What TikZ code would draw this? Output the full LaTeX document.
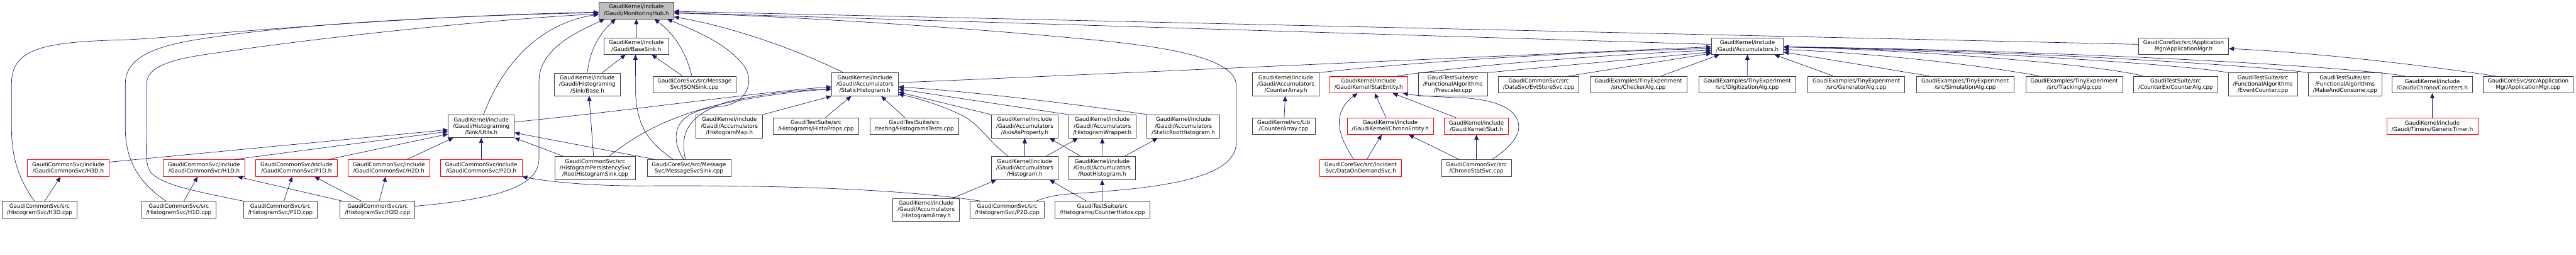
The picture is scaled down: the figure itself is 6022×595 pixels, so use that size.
\documentclass[tikz,border=0pt]{standalone}
\usepackage{fontspec}
\setmainfont{DejaVu Sans}
\usepackage{tikz}
\usetikzlibrary{arrows.meta}
\definecolor{edgeblue}{RGB}{25,25,112}
\definecolor{rootgrey}{RGB}{191,191,191}

\begin{document}
\begin{tikzpicture}[x=0.5pt, y=-0.5pt,
    hfile/.style={draw=black!75, line width=0.5pt, fill=white, align=center,
      inner xsep=5.5pt, inner ysep=2.9pt, minimum height=19.5pt,
      font=\fontsize{6.4}{7.5}\selectfont},
    hred/.style={hfile, draw=red},
    hroot/.style={hfile, fill=rootgrey},
    inc/.style={draw=edgeblue, line width=0.5pt, -{Triangle[length=6pt,width=5pt]}}]
    \useasboundingbox (0,0) rectangle (6022,595);

    % top rows
    \node[hroot] (hub) at (1487.5,24.5) {GaudiKernel/include\\/Gaudi/MonitoringHub.h};
    \node[hfile] (basesink) at (1487.5,107.5) {GaudiKernel/include\\/Gaudi/BaseSink.h};
    \node[hfile] (accum) at (4085,107.5) {GaudiKernel/include\\/Gaudi/Accumulators.h};
    \node[hfile] (appmgrh) at (5104.5,107.5) {GaudiCoreSvc/src/Application\\Mgr/ApplicationMgr.h};

    \node[hfile] (sinkbase) at (1373,197) {GaudiKernel/include\\/Gaudi/Histograming\\/Sink/Base.h};
    \node[hfile] (jsonsink) at (1623.5,197.5) {GaudiCoreSvc/src/Message\\Svc/JSONSink.cpp};
    \node[hfile] (statichisto) at (2022,197) {GaudiKernel/include\\/Gaudi/Accumulators\\/StaticHistogram.h};
    \node[hfile] (counterarray) at (3006,197) {GaudiKernel/include\\/Gaudi/Accumulators\\/CounterArray.h};
    \node[hred] (statentity) at (3199.5,197.5) {GaudiKernel/include\\/GaudiKernel/StatEntity.h};
    \node[hfile] (prescaler) at (3396.5,197) {GaudiTestSuite/src\\/FunctionalAlgorithms\\/Prescaler.cpp};
    \node[hfile] (evtstore) at (3597,197.5) {GaudiCommonSvc/src\\/DataSvc/EvtStoreSvc.cpp};
    \node[hfile] (checker) at (3830,197.5) {GaudiExamples/TinyExperiment\\/src/CheckerAlg.cpp};
    \node[hfile] (digitization) at (4084.5,197.5) {GaudiExamples/TinyExperiment\\/src/DigitizationAlg.cpp};
    \node[hfile] (generator) at (4339.5,197.5) {GaudiExamples/TinyExperiment\\/src/GeneratorAlg.cpp};
    \node[hfile] (simulation) at (4594,197.5) {GaudiExamples/TinyExperiment\\/src/SimulationAlg.cpp};
    \node[hfile] (tracking) at (4849,197.5) {GaudiExamples/TinyExperiment\\/src/TrackingAlg.cpp};
    \node[hfile] (counteralg) at (5086,197.5) {GaudiTestSuite/src\\/CounterEx/CounterAlg.cpp};
    \node[hfile] (eventcounter) at (5290,197) {GaudiTestSuite/src\\/FunctionalAlgorithms\\/EventCounter.cpp};
    \node[hfile] (makeconsume) at (5482,197) {GaudiTestSuite/src\\/FunctionalAlgorithms\\/MakeAndConsume.cpp};
    \node[hfile] (counters) at (5686,197.5) {GaudiKernel/include\\/Gaudi/Chrono/Counters.h};
    \node[hfile] (appmgrcpp) at (5910,197.5) {GaudiCoreSvc/src/Application\\Mgr/ApplicationMgr.cpp};

    % middle row
    \node[hfile] (sinkutils) at (1125,295) {GaudiKernel/include\\/Gaudi/Histograming\\/Sink/Utils.h};
    \node[hfile] (histomap) at (1705,295) {GaudiKernel/include\\/Gaudi/Accumulators\\/HistogramMap.h};
    \node[hfile] (histoprops) at (1907.5,294.5) {GaudiTestSuite/src\\/Histograms/HistoProps.cpp};
    \node[hfile] (histotests) at (2137,294.5) {GaudiTestSuite/src\\/testing/HistogramsTests.cpp};
    \node[hfile] (axisprop) at (2395.5,295) {GaudiKernel/include\\/Gaudi/Accumulators\\/AxisAsProperty.h};
    \node[hfile] (histowrap) at (2577,295) {GaudiKernel/include\\/Gaudi/Accumulators\\/HistogramWrapper.h};
    \node[hfile] (staticroot) at (2766.5,295) {GaudiKernel/include\\/Gaudi/Accumulators\\/StaticRootHistogram.h};
    \node[hfile] (libcounterarray) at (3001,294.5) {GaudiKernel/src/Lib\\/CounterArray.cpp};
    \node[hred] (chronoentity) at (3250,294.5) {GaudiKernel/include\\/GaudiKernel/ChronoEntity.h};
    \node[hred] (stat) at (3451.5,294.5) {GaudiKernel/include\\/GaudiKernel/Stat.h};
    \node[hred] (generictimer) at (5686,294.5) {GaudiKernel/include\\/Gaudi/Timers/GenericTimer.h};

    % lower rows
    \node[hred] (h3dh) at (159.5,392.5) {GaudiCommonSvc/include\\/GaudiCommonSvc/H3D.h};
    \node[hred] (h1dh) at (477,392.5) {GaudiCommonSvc/include\\/GaudiCommonSvc/H1D.h};
    \node[hred] (p1dh) at (693,392.5) {GaudiCommonSvc/include\\/GaudiCommonSvc/P1D.h};
    \node[hred] (h2dh) at (909,392.5) {GaudiCommonSvc/include\\/GaudiCommonSvc/H2D.h};
    \node[hred] (p2dh) at (1125,392.5) {GaudiCommonSvc/include\\/GaudiCommonSvc/P2D.h};
    \node[hfile] (rootsink) at (1391.5,392.5) {GaudiCommonSvc/src\\/HistogramPersistencySvc\\/RootHistogramSink.cpp};
    \node[hfile] (msgsink) at (1610.5,392.5) {GaudiCoreSvc/src/Message\\Svc/MessageSvcSink.cpp};
    \node[hfile] (histogram) at (2395.5,392.5) {GaudiKernel/include\\/Gaudi/Accumulators\\/Histogram.h};
    \node[hfile] (roothisto) at (2576.5,392.5) {GaudiKernel/include\\/Gaudi/Accumulators\\/RootHistogram.h};
    \node[hred] (dataondemand) at (3181,392.5) {GaudiCoreSvc/src/Incident\\Svc/DataOnDemandSvc.h};
    \node[hfile] (chronostat) at (3451.5,392.5) {GaudiCommonSvc/src\\/ChronoStatSvc.cpp};

    \node[hfile] (h3dcpp) at (92.5,489.5) {GaudiCommonSvc/src\\/HistogramSvc/H3D.cpp};
    \node[hfile] (h1dcpp) at (418,489.5) {GaudiCommonSvc/src\\/HistogramSvc/H1D.cpp};
    \node[hfile] (p1dcpp) at (655.5,489.5) {GaudiCommonSvc/src\\/HistogramSvc/P1D.cpp};
    \node[hfile] (h2dcpp) at (882.5,489.5) {GaudiCommonSvc/src\\/HistogramSvc/H2D.cpp};
    \node[hfile] (histoarray) at (2165,490) {GaudiKernel/include\\/Gaudi/Accumulators\\/HistogramArray.h};
    \node[hfile] (p2dcpp) at (2354.5,489.5) {GaudiCommonSvc/src\\/HistogramSvc/P2D.cpp};
    \node[hfile] (counterhistos) at (2577,489.5) {GaudiTestSuite/src\\/Histograms/CounterHistos.cpp};

    % includes of MonitoringHub.h
    \draw[inc] ([xshift=-6pt]h3dcpp.north) .. controls (45,420) and (27,370) .. (27,300) -- (27,195)
        .. controls (27,110) and (110,98) .. (290,93) .. controls (420,88) and (900,38) .. ([yshift=-2pt]hub.west);
    \draw[inc] ([xshift=-15pt]h1dcpp.north) .. controls (330,430) and (293,380) .. (293,300) -- (293,195)
        .. controls (293,120) and (400,100) .. (510,85) .. controls (700,58) and (1000,38) .. ([yshift=-2.5pt]hub.west);
    \draw[inc] (p1dcpp.north west) .. controls (450,445) and (365,430) .. (348,395)
        .. controls (338,370) and (343,330) .. (343,300) -- (343,195)
        .. controls (343,150) and (420,135) .. (510,123) .. controls (800,80) and (1200,42) .. ([yshift=-4pt]hub.west);
    \draw[inc] ([yshift=4pt]h2dcpp.east) .. controls (1150,465) and (1260,440) .. (1260,370) -- (1260,190)
        .. controls (1260,110) and (1360,70) .. ([xshift=-37pt]hub.south);
    \draw[inc] ([xshift=34pt]p2dcpp.north) .. controls (2450,458) and (2480,454) .. (2510,452)
        .. controls (2700,440) and (2890,420) .. (2890,333) -- (2890,200)
        .. controls (2890,130) and (2700,105) .. (2500,88) .. controls (2200,60) and (1800,36) .. ([yshift=-3pt]hub.east);
    \draw[inc] ([xshift=2.5pt]sinkutils.north) .. controls (1175,150) and (1260,55) .. ([yshift=-4.5pt]hub.west);
    \draw[inc] (sinkbase.north) .. controls (1380,110) and (1405,75) .. ([xshift=-24pt]hub.south);
    \draw[inc] (basesink) -- (hub);
    \draw[inc] ([xshift=-3pt]jsonsink.north) .. controls (1600,110) and (1570,75) .. ([xshift=21pt]hub.south);
    \draw[inc] ([xshift=-6pt]msgsink.north) .. controls (1570,330) and (1560,258) .. (1690,248)
        .. controls (1745,240) and (1765,190) .. (1740,155) .. controls (1700,100) and (1620,70) .. ([xshift=36pt]hub.south);
    \draw[inc] ([xshift=-25pt]statichisto.north) .. controls (1850,110) and (1700,60) .. ([yshift=-7.5pt]hub.east);
    \draw[inc] ([yshift=2pt]accum.west) -- ([yshift=-2.5pt]hub.east);
    \draw[inc] ([yshift=2pt]appmgrh.west) -- ([yshift=-1pt]hub.east);

    % sinks
    \draw[inc] ([xshift=17pt]sinkbase.north) -- ([xshift=-12.5pt]basesink.south);
    \draw[inc] ([xshift=-14pt]jsonsink.north) -- ([xshift=18pt]basesink.south);
    \draw[inc] ([xshift=-18pt]msgsink.north) .. controls (1520,335) and (1490,300) .. (1486,220) -- ([xshift=-1pt]basesink.south);
    \draw[inc] ([xshift=-2pt]rootsink.north) -- ([xshift=2pt]sinkbase.south);
    \draw[inc] ([yshift=7pt]h3dh.east) -- ([yshift=-4pt]sinkutils.west);
    \draw[inc] ([xshift=34.5pt]h1dh.north) -- ([yshift=-6pt]sinkutils.west);
    \draw[inc] ([xshift=37pt]p1dh.north) -- ([yshift=-9pt]sinkutils.west);
    \draw[inc] ([xshift=21pt]h2dh.north) -- ([xshift=-32.5pt]sinkutils.south);
    \draw[inc] (p2dh) -- (sinkutils);
    \draw[inc] ([xshift=-37pt]rootsink.north) -- (sinkutils.south east);
    \draw[inc] ([xshift=-39pt]msgsink.north) -- ([yshift=-7.5pt]sinkutils.east);

    % StaticHistogram.h
    \draw[inc] ([yshift=5pt]sinkutils.east) .. controls (1500,255) and (1800,212) .. ([yshift=-3pt]statichisto.west);
    \draw[inc] ([xshift=16pt]rootsink.north) .. controls (1480,320) and (1560,270) .. (1700,240)
        .. controls (1800,220) and (1880,212) .. ([yshift=-5.5pt]statichisto.west);
    \draw[inc] ([xshift=-4pt]msgsink.north) .. controls (1590,320) and (1600,270) .. (1700,238)
        .. controls (1800,215) and (1880,210) .. ([yshift=-5.5pt]statichisto.west);
    \draw[inc] (histomap.north east) -- (statichisto.south west);
    \draw[inc] ([xshift=11pt]histoprops.north) -- ([xshift=-16pt]statichisto.south);
    \draw[inc] ([xshift=-11pt]histotests.north) -- ([xshift=19pt]statichisto.south);
    \draw[inc] (axisprop.north west) -- ([yshift=-9pt]statichisto.east);
    \draw[inc] (histowrap.north west) -- ([yshift=-5.5pt]statichisto.east);
    \draw[inc] (staticroot.north west) .. controls (2600,255) and (2300,215) .. ([yshift=-3pt]statichisto.east);
    \draw[inc] ([xshift=-19pt]histogram.north) .. controls (2310,330) and (2290,290) .. (2250,270)
        .. controls (2200,245) and (2140,228) .. ([yshift=-11.5pt]statichisto.east);

    % Accumulators.h
    \draw[inc] ([yshift=2pt]statichisto.east) .. controls (2600,172) and (3400,135) .. ([yshift=-1pt]accum.west);
    \draw[inc] (counterarray.north east) .. controls (3300,145) and (3700,120) .. ([yshift=-3pt]accum.west);
    \draw[inc] ([xshift=33pt]statentity.north) .. controls (3450,150) and (3800,125) .. ([yshift=-5pt]accum.west);
    \draw[inc] (prescaler.north east) -- ([yshift=-7pt]accum.west);
    \draw[inc] ([xshift=35pt]evtstore.north) -- ([yshift=-8.5pt]accum.west);
    \draw[inc] ([xshift=26.5pt]checker.north) -- ([xshift=-32.5pt]accum.south);
    \draw[inc] (digitization) -- (accum);
    \draw[inc] ([xshift=-27pt]generator.north) -- ([xshift=31.5pt]accum.south);
    \draw[inc] ([xshift=-42pt]simulation.north) -- ([yshift=-7pt]accum.east);
    \draw[inc] ([xshift=-41pt]tracking.north) .. controls (4650,155) and (4400,125) .. ([yshift=-4pt]accum.east);
    \draw[inc] ([xshift=-38pt]counteralg.north) .. controls (4900,150) and (4500,118) .. ([yshift=-1pt]accum.east);
    \draw[inc] (eventcounter.north west) .. controls (5100,150) and (4600,118) .. ([yshift=-1pt]accum.east);
    \draw[inc] (makeconsume.north west) .. controls (5250,150) and (4650,116) .. ([yshift=-1pt]accum.east);
    \draw[inc] ([xshift=-32pt]counters.north) .. controls (5450,150) and (4700,115) .. ([yshift=-1pt]accum.east);

    % histogram files
    \draw[inc] ([xshift=6pt]h3dcpp.north) -- ([xshift=-9pt]h3dh.south);
    \draw[inc] ([xshift=6pt]h1dcpp.north) -- ([xshift=-7.5pt]h1dh.south);
    \draw[inc] ([xshift=4pt]p1dcpp.north) -- ([xshift=-5pt]p1dh.south);
    \draw[inc] ([xshift=2pt]h2dcpp.north) -- ([xshift=-3.5pt]h2dh.south);
    \draw[inc] ([xshift=-19pt]h2dcpp.north) -- ([xshift=21pt]p1dh.south);
    \draw[inc] ([xshift=-41pt]h2dcpp.north) -- ([xshift=39pt]h1dh.south);
    \draw[inc] ([xshift=-31pt]p2dcpp.north) .. controls (2100,440) and (1800,432) .. (1500,434)
        .. controls (1350,434) and (1260,420) .. (p2dh.south east);
    \draw[inc] (histogram) -- (axisprop);
    \draw[inc] ([xshift=25pt]histogram.north) -- ([xshift=-28.5pt]histowrap.south);
    \draw[inc] ([xshift=-25pt]roothisto.north) -- ([xshift=29pt]axisprop.south);
    \draw[inc] (roothisto) -- (histowrap);
    \draw[inc] ([xshift=26pt]roothisto.north) -- ([xshift=-30pt]staticroot.south);
    \draw[inc] ([xshift=31pt]histoarray.north) -- ([xshift=-33pt]histogram.south);
    \draw[inc] ([xshift=-18.5pt]counterhistos.north) -- ([xshift=29pt]histogram.south);
    \draw[inc] (counterhistos) -- (roothisto);
    \draw[inc] (libcounterarray) -- (counterarray);

    % StatEntity.h and friends
    \draw[inc] ([xshift=-8pt]dataondemand.north) .. controls (3130,320) and (3110,265) .. ([xshift=-13pt]statentity.south);
    \draw[inc] ([xshift=-5pt]chronoentity.north) -- ([xshift=7pt]statentity.south);
    \draw[inc] ([xshift=-24pt]stat.north) -- ([xshift=28pt]statentity.south);
    \draw[inc] ([xshift=18pt]chronostat.north) .. controls (3520,352) and (3555,320) .. (3550,290)
        .. controls (3545,255) and (3500,235) .. (3430,229) .. controls (3350,226) and (3300,222) .. ([xshift=40pt]statentity.south);
    \draw[inc] ([xshift=7pt]dataondemand.north) -- ([xshift=-10pt]chronoentity.south);
    \draw[inc] ([xshift=-20pt]chronostat.north) -- ([xshift=21.5pt]chronoentity.south);
    \draw[inc] (chronostat) -- (stat);

    % application manager and timers
    \draw[inc] ([xshift=-38.5pt]appmgrcpp.north) .. controls (5650,150) and (5400,122) .. ([yshift=-3pt]appmgrh.east);
    \draw[inc] (generictimer) -- (counters);
\end{tikzpicture}
\end{document}
